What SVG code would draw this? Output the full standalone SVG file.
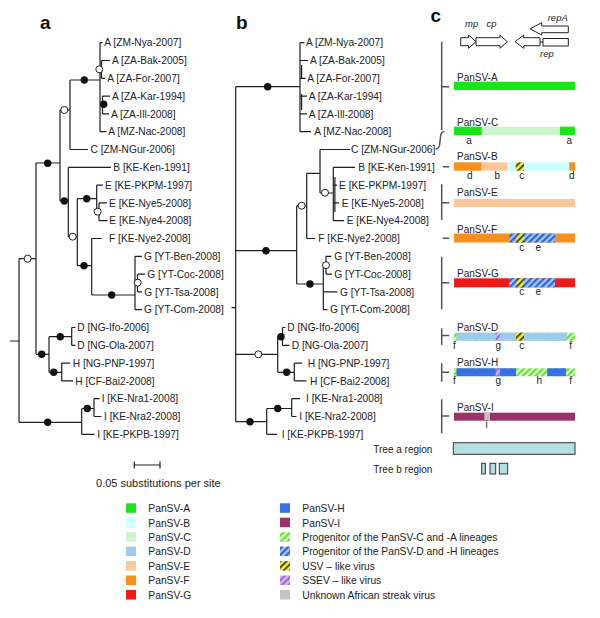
<svg xmlns="http://www.w3.org/2000/svg" width="600" height="618" viewBox="0 0 600 618">
<style>
.br{fill:none;stroke:#1e1e1e;stroke-width:1.2}
.bk{fill:#111}
.op{fill:#fff;stroke:#1e1e1e;stroke-width:1}
.lf{font-family:"Liberation Sans",Arial,sans-serif;font-size:10.2px;fill:#222}
.pl{font-family:"Liberation Sans",Arial,sans-serif;font-size:19px;font-weight:bold;fill:#111}
.bl{font-family:"Liberation Sans",Arial,sans-serif;font-size:10px;fill:#222}
.lt{font-family:"Liberation Sans",Arial,sans-serif;font-size:10px;fill:#222;text-anchor:middle}
.gi{font-family:"Liberation Sans",Arial,sans-serif;font-size:9.5px;font-style:italic;fill:#222}
.lg{font-family:"Liberation Sans",Arial,sans-serif;font-size:10.3px;fill:#222}
.gn{fill:#fff;stroke:#222;stroke-width:1}
.bk2{fill:none;stroke:#555;stroke-width:1.5}
.rg{fill:#b3dfe3;stroke:#333;stroke-width:1}
</style>
<defs>
<pattern id="pCA" patternUnits="userSpaceOnUse" width="4.5" height="4.5" patternTransform="rotate(45)"><rect width="4.5" height="4.5" fill="#d6ffb8"/><rect width="2.2" height="4.5" fill="#6ddc4a"/></pattern>
<pattern id="pDH" patternUnits="userSpaceOnUse" width="4.5" height="4.5" patternTransform="rotate(45)"><rect width="4.5" height="4.5" fill="#9fcaf0"/><rect width="2.2" height="4.5" fill="#2f62d8"/></pattern>
<pattern id="pUSV" patternUnits="userSpaceOnUse" width="4.5" height="4.5" patternTransform="rotate(45)"><rect width="4.5" height="4.5" fill="#f4f030"/><rect width="2" height="4.5" fill="#4a4a2a"/></pattern>
<pattern id="pSSEV" patternUnits="userSpaceOnUse" width="4.5" height="4.5" patternTransform="rotate(45)"><rect width="4.5" height="4.5" fill="#d9b3f2"/><rect width="2.2" height="4.5" fill="#9b6fd0"/></pattern>
</defs>

<rect width="600" height="618" fill="#fff"/>

<!-- panel labels -->
<text class="pl" x="40" y="28.5">a</text>
<text class="pl" x="236" y="28.5">b</text>
<text class="pl" x="430.5" y="21.7">c</text>

<!-- Tree a connectors -->
<g id="tree-a-connectors">
<path class="br" d="M10,341H19 M19,258.7V422.3 M19,258.7H36 M36,163V354.3 M36,163H60 M60,110V201 M60,110H70 M70,80V149.5 M70,80H100 M70,149.5H88
M100,42.7V131.7 M100,42.7H102.5 M100,69.3H101.5 M101.5,60.5V78.3 M101.5,60.5H110 M101.5,78.3H105 M100,104.3H102.5 M102.5,96.1V113.9 M102.5,96.1H110 M102.5,113.9H109 M100,131.7H106.5
M60,201H68.3 M68.3,167.3V236.7 M68.3,167.3H111 M68.3,236.7H77.3 M77.3,198.7V265.7 M77.3,198.7H96.7
M96.7,185.1V211.8 M96.7,185.1H103 M96.7,211.8H99 M99,202.9V220.7 M99,202.9H107 M99,220.7H107.5
M77.3,265.7H91.7 M91.7,238.5V295 M91.7,238.5H101.7 M91.7,295H135
M135,256.3V309.7 M135,256.3H142 M135,282.7H137.5 M137.5,274.1V291.9 M137.5,274.1H145 M137.5,291.9H142 M135,309.7H142
M36,354.3H49 M49,336.7V372.3 M49,336.7H71.7 M71.7,327.5V345.3 M71.7,327.5H75.5 M71.7,345.3H75.5 M49,372.3H61.7 M61.7,363.1V380.9 M61.7,363.1H70 M61.7,380.9H73
M19,422.3H81.7 M81.7,408.5V434.3 M81.7,408.5H94 M94,398.7V416.5 M94,398.7H99.5 M94,416.5H101.5 M81.7,434.3H94.5"/>
<circle class="op" cx="27.7" cy="258.7" r="3.5"/>
<circle class="bk" cx="47.7" cy="163.3" r="3.7"/>
<circle class="op" cx="64.3" cy="110" r="3.5"/>
<circle class="bk" cx="84.3" cy="80" r="3.7"/>
<circle class="op" cx="99.3" cy="69.3" r="3.5"/>
<circle class="bk" cx="103.7" cy="104.3" r="3.7"/>
<circle class="bk" cx="64.3" cy="201" r="3.7"/>
<circle class="bk" cx="86.7" cy="198.7" r="3.7"/>
<circle class="op" cx="97.7" cy="211.7" r="3.5"/>
<circle class="op" cx="72.7" cy="236.7" r="3.5"/>
<circle class="bk" cx="84" cy="265.7" r="3.7"/>
<circle class="bk" cx="111.7" cy="295" r="3.7"/>
<circle class="op" cx="137.7" cy="282.7" r="3.5"/>
<circle class="bk" cx="41.7" cy="354.3" r="3.7"/>
<circle class="bk" cx="60.3" cy="336.7" r="3.7"/>
<circle class="bk" cx="53.7" cy="372.3" r="3.7"/>
<circle class="bk" cx="47.7" cy="422.3" r="3.7"/>
<circle class="bk" cx="87.3" cy="408.5" r="3.7"/>
</g>

<!-- Tree a leaves -->
<g id="tree-a-leaves">
<g id="a-ZM-Nya-2007"><text class="lf" x="104.3" y="46.4">A [ZM-Nya-2007]</text></g>
<g id="a-ZA-Bak-2005"><text class="lf" x="112" y="64.2">A [ZA-Bak-2005]</text></g>
<g id="a-ZA-For-2007"><text class="lf" x="107.3" y="82">A [ZA-For-2007]</text></g>
<g id="a-ZA-Kar-1994"><text class="lf" x="112" y="99.8">A [ZA-Kar-1994]</text></g>
<g id="a-ZA-Ill-2008"><text class="lf" x="111" y="117.6">A [ZA-Ill-2008]</text></g>
<g id="a-MZ-Nac-2008"><text class="lf" x="108.3" y="135.4">A [MZ-Nac-2008]</text></g>
<g id="a-ZM-NGur-2006"><text class="lf" x="90.5" y="153.2">C [ZM-NGur-2006]</text></g>
<g id="a-KE-Ken-1991"><text class="lf" x="113.3" y="171">B [KE-Ken-1991]</text></g>
<g id="a-KE-PKPM-1997"><text class="lf" x="105" y="188.8">E [KE-PKPM-1997]</text></g>
<g id="a-KE-Nye5-2008"><text class="lf" x="109" y="206.6">E [KE-Nye5-2008]</text></g>
<g id="a-KE-Nye4-2008"><text class="lf" x="109.3" y="224.4">E [KE-Nye4-2008]</text></g>
<g id="a-KE-Nye2-2008"><text class="lf" x="109" y="242.2">F [KE-Nye2-2008]</text></g>
<g id="a-YT-Ben-2008"><text class="lf" x="144" y="260">G [YT-Ben-2008]</text></g>
<g id="a-YT-Coc-2008"><text class="lf" x="147.3" y="277.8">G [YT-Coc-2008]</text></g>
<g id="a-YT-Tsa-2008"><text class="lf" x="144.3" y="295.6">G [YT-Tsa-2008]</text></g>
<g id="a-YT-Com-2008"><text class="lf" x="144" y="313.4">G [YT-Com-2008]</text></g>
<g id="a-NG-Ifo-2006"><text class="lf" x="77.3" y="331.2">D [NG-Ifo-2006]</text></g>
<g id="a-NG-Ola-2007"><text class="lf" x="77.3" y="349">D [NG-Ola-2007]</text></g>
<g id="a-NG-PNP-1997"><text class="lf" x="72.7" y="366.8">H [NG-PNP-1997]</text></g>
<g id="a-CF-Bai2-2008"><text class="lf" x="75.3" y="384.6">H [CF-Bai2-2008]</text></g>
<g id="a-KE-Nra1-2008"><text class="lf" x="101.7" y="402.4">I [KE-Nra1-2008]</text></g>
<g id="a-KE-Nra2-2008"><text class="lf" x="104" y="420.2">I [KE-Nra2-2008]</text></g>
<g id="a-KE-PKPB-1997"><text class="lf" x="97.3" y="438">I [KE-PKPB-1997]</text></g>
</g>

<!-- scale bar -->
<g id="scale-bar">
<path class="br" d="M134.3,465H160 M134.3,461.5V468.5 M160,461.5V468.5"/>
<text class="lg" style="font-size:11px" x="96" y="487">0.05 substitutions per site</text>
</g>

<!-- Tree b connectors -->
<g id="tree-b-connectors">
<path class="br" d="M231.5,307.7H235.7 M235.7,86.7V421.7 M235.7,86.7H300
M300,42.7V131.7 M300,42.7H304.5 M300,60.5H308 M300,78.3H305.5 M300,96.1H307 M300,113.9H307 M300,131.7H311 M301.6,65V79 M301.6,94V110
M235.7,250.7H296.7 M296.7,205.7V284 M296.7,205.7H306.7 M306.7,173.3V238.5 M306.7,173.3H320 M320,149.5V193 M320,149.5H350 M320,193H333.3
M333.3,167.3V220.7 M333.3,167.3H355 M333.3,185.1H337 M333.3,202.9H339 M333.3,220.7H344 M334.9,177V212
M306.7,238.5H315 M296.7,284H323.3
M323.3,265.5V309.7 M323.3,265.5H326 M326,256.3V274.1 M326,256.3H331.5 M326,274.1H332 M323.3,291.9H337.5 M323.3,309.7H327.5
M235.7,354.3H277.7 M277.7,336.7V372.3 M277.7,336.7H282.5 M282.5,327.5V345.3 M282.5,327.5H285.5 M282.5,345.3H289.5 M277.7,372.3H294.3 M294.3,363.1V380.9 M294.3,363.1H302 M294.3,380.9H306.5
M235.7,421.7H266.7 M266.7,408.5V434.3 M266.7,408.5H291.7 M291.7,398.7V416.5 M291.7,398.7H300 M291.7,416.5H296.5 M266.7,434.3H277"/>
<circle class="bk" cx="267.7" cy="86.7" r="3.7"/>
<circle class="bk" cx="266" cy="250.7" r="3.7"/>
<circle class="op" cx="301.7" cy="205.7" r="3.5"/>
<circle class="op" cx="325" cy="192.7" r="3.5"/>
<circle class="bk" cx="310" cy="284" r="3.7"/>
<circle class="op" cx="326" cy="265.2" r="3.5"/>
<circle class="op" cx="258.3" cy="354.3" r="3.5"/>
<circle class="bk" cx="281" cy="336.7" r="3.7"/>
<circle class="bk" cx="286.7" cy="372.3" r="3.7"/>
<circle class="bk" cx="250" cy="421.7" r="3.7"/>
<circle class="bk" cx="277.7" cy="408.5" r="3.7"/>
</g>

<!-- Tree b leaves -->
<g id="tree-b-leaves">
<g id="b-ZM-Nya-2007"><text class="lf" x="306" y="46.4">A [ZM-Nya-2007]</text></g>
<g id="b-ZA-Bak-2005"><text class="lf" x="310" y="64.2">A [ZA-Bak-2005]</text></g>
<g id="b-ZA-For-2007"><text class="lf" x="307.3" y="82">A [ZA-For-2007]</text></g>
<g id="b-ZA-Kar-1994"><text class="lf" x="308.8" y="99.8">A [ZA-Kar-1994]</text></g>
<g id="b-ZA-Ill-2008"><text class="lf" x="308.8" y="117.6">A [ZA-Ill-2008]</text></g>
<g id="b-MZ-Nac-2008"><text class="lf" x="314.3" y="135.4">A [MZ-Nac-2008]</text></g>
<g id="b-ZM-NGur-2006"><text class="lf" x="351" y="153.2">C [ZM-NGur-2006]</text></g>
<g id="b-KE-Ken-1991"><text class="lf" x="358.3" y="171">B [KE-Ken-1991]</text></g>
<g id="b-KE-PKPM-1997"><text class="lf" x="339" y="188.8">E [KE-PKPM-1997]</text></g>
<g id="b-KE-Nye5-2008"><text class="lf" x="341.7" y="206.6">E [KE-Nye5-2008]</text></g>
<g id="b-KE-Nye4-2008"><text class="lf" x="346.7" y="224.4">E [KE-Nye4-2008]</text></g>
<g id="b-KE-Nye2-2008"><text class="lf" x="318.3" y="242.2">F [KE-Nye2-2008]</text></g>
<g id="b-YT-Ben-2008"><text class="lf" x="334.3" y="260">G [YT-Ben-2008]</text></g>
<g id="b-YT-Coc-2008"><text class="lf" x="334.3" y="277.8">G [YT-Coc-2008]</text></g>
<g id="b-YT-Tsa-2008"><text class="lf" x="340" y="295.6">G [YT-Tsa-2008]</text></g>
<g id="b-YT-Com-2008"><text class="lf" x="330" y="313.4">G [YT-Com-2008]</text></g>
<g id="b-NG-Ifo-2006"><text class="lf" x="287.3" y="331.2">D [NG-Ifo-2006]</text></g>
<g id="b-NG-Ola-2007"><text class="lf" x="291.7" y="349">D [NG-Ola-2007]</text></g>
<g id="b-NG-PNP-1997"><text class="lf" x="307.7" y="366.8">H [NG-PNP-1997]</text></g>
<g id="b-CF-Bai2-2008"><text class="lf" x="310" y="384.6">H [CF-Bai2-2008]</text></g>
<g id="b-KE-Nra1-2008"><text class="lf" x="306" y="402.4">I [KE-Nra1-2008]</text></g>
<g id="b-KE-Nra2-2008"><text class="lf" x="299.3" y="420.2">I [KE-Nra2-2008]</text></g>
<g id="b-KE-PKPB-1997"><text class="lf" x="281.7" y="438">I [KE-PKPB-1997]</text></g>
</g>

<!-- Panel c genome map -->
<g id="genome-map">
<path class="gn" d="M460.7,37.7H468.5V35L476,41.7L468.5,48.3V45.7H460.7Z"/>
<path class="gn" d="M476,37.7H500V35L507.3,41.7L500,48.3V45.7H476Z"/>
<path class="gn" d="M515,41.7L523.8,35V37.7H540V45.7H523.8V48.3Z"/>
<path class="br" style="stroke-width:1" d="M540,42H543"/>
<rect class="gn" x="543" y="38.5" width="25.3" height="7.5"/>
<path class="gn" d="M530,28.8L541.7,22.7V26H568.3V32.7H541.7V35Z"/>
<text class="gi" x="465" y="27">mp</text>
<text class="gi" x="486.5" y="27">cp</text>
<text class="gi" x="547.7" y="20.5">repA</text>
<text class="gi" x="540" y="56.5">rep</text>
</g>

<!-- Panel c brackets -->
<g id="panel-c-connectors">
<path class="bk2" d="M441.7,41.7V130 M441.7,86.7H449.3
M444.5,131.5C441,131.5 440.5,134 440.4,138L439.7,144C439.5,147.5 438.5,149 435.5,149
M442.7,166.7H449.3
M441.7,184.3V220 M441.7,202.7H449.3
M442.7,238.3H449.3
M441.7,256.7V309.3 M441.7,282.7H449.3
M441.7,328.3V345 M441.7,335.5H449.3
M441.7,363.3V381.7 M441.7,372.3H449.3
M441.7,399.3V433.3 M441.7,416H449.3"/>
</g>

<!-- Panel c bars -->
<g id="bar-A">
<text class="bl" x="457" y="80.5">PanSV-A</text>
<rect x="454" y="81.7" width="121" height="8.3" fill="#19e619"/>
</g>
<g id="bar-C">
<text class="bl" x="457" y="125.5">PanSV-C</text>
<rect x="454" y="126.7" width="121" height="8.3" fill="#cbf6cb"/>
<rect x="454" y="126.7" width="27.7" height="8.3" fill="#19e619"/>
<rect x="560" y="126.7" width="15" height="8.3" fill="#19e619"/>
<text class="lt" x="469" y="143.5">a</text>
<text class="lt" x="569.3" y="143.5">a</text>
</g>
<g id="bar-B">
<text class="bl" x="457" y="159.5">PanSV-B</text>
<rect x="454" y="162.3" width="27.7" height="8.4" fill="#f7901e"/>
<rect x="481.7" y="162.3" width="26" height="8.4" fill="#fcc89b"/>
<rect x="508.2" y="162.3" width="61.1" height="8.4" fill="#ccffff"/>
<rect x="515.7" y="162.3" width="8.3" height="8.4" fill="url(#pUSV)"/>
<rect x="569.3" y="162.3" width="5.7" height="8.4" fill="#f7901e"/>
<text class="lt" x="469.7" y="178.5">d</text>
<text class="lt" x="497.3" y="178.5">b</text>
<text class="lt" x="521.7" y="178.5">c</text>
<text class="lt" x="571.7" y="178.5">d</text>
</g>
<g id="bar-E">
<text class="bl" x="457" y="195.5">PanSV-E</text>
<rect x="454" y="199" width="121" height="8" fill="#fcc89b"/>
</g>
<g id="bar-F">
<text class="bl" x="457" y="232.5">PanSV-F</text>
<rect x="454" y="233.5" width="121" height="9" fill="#f7901e"/>
<rect x="509.3" y="233.5" width="45.7" height="9" fill="url(#pDH)"/>
<rect x="516.5" y="233.5" width="7.5" height="9" fill="url(#pUSV)"/>
<text class="lt" x="521.7" y="250.8">c</text>
<text class="lt" x="538.3" y="250.8">e</text>
</g>
<g id="bar-G">
<text class="bl" x="457" y="277">PanSV-G</text>
<rect x="454" y="278.3" width="121" height="9" fill="#ef1a1a"/>
<rect x="509.3" y="278.3" width="45.7" height="9" fill="url(#pDH)"/>
<rect x="516.5" y="278.3" width="7.5" height="9" fill="url(#pUSV)"/>
<text class="lt" x="521.7" y="295">c</text>
<text class="lt" x="538.3" y="295">e</text>
</g>
<g id="bar-D">
<text class="bl" x="457" y="330.5">PanSV-D</text>
<rect x="454" y="332.7" width="121" height="8" fill="url(#pCA)"/>
<rect x="456.5" y="332.7" width="110.2" height="8" fill="#9fcaf0"/>
<rect x="495.7" y="332.7" width="4.3" height="8" fill="url(#pSSEV)"/>
<rect x="516" y="332.7" width="8" height="8" fill="url(#pUSV)"/>
<text class="lt" x="454.3" y="349">f</text>
<text class="lt" x="498.3" y="349">g</text>
<text class="lt" x="521.7" y="349">c</text>
<text class="lt" x="570.7" y="349">f</text>
</g>
<g id="bar-H">
<text class="bl" x="457" y="365.5">PanSV-H</text>
<rect x="454" y="368.3" width="121" height="7.9" fill="url(#pCA)"/>
<rect x="456.5" y="368.3" width="59.5" height="7.9" fill="#3a6ee8"/>
<rect x="547.3" y="368.3" width="18.7" height="7.9" fill="#3a6ee8"/>
<rect x="495.7" y="368.3" width="4.3" height="7.9" fill="url(#pSSEV)"/>
<text class="lt" x="454.3" y="384">f</text>
<text class="lt" x="498.3" y="384">g</text>
<text class="lt" x="539.3" y="384">h</text>
<text class="lt" x="570.7" y="384">f</text>
</g>
<g id="bar-I">
<text class="bl" x="457" y="410.5">PanSV-I</text>
<rect x="454" y="412.7" width="121" height="8" fill="#993366"/>
<rect x="484.3" y="412.7" width="5.7" height="8" fill="#c4c0c2"/>
<text class="lt" x="486.7" y="428">i</text>
</g>

<!-- tree regions -->
<g id="tree-a-region">
<text class="lg" style="font-size:10px" x="373.3" y="452.5">Tree a region</text>
<rect class="rg" x="453.3" y="442.7" width="121.7" height="11.6"/>
</g>
<g id="tree-b-region">
<text class="lg" style="font-size:10px" x="373.3" y="472.5">Tree b region</text>
<rect class="rg" x="481.7" y="463.3" width="3.6" height="10.7"/>
<rect class="rg" x="490" y="463.3" width="5.7" height="10.7"/>
<rect class="rg" x="499.3" y="463.3" width="8.4" height="10.7"/>
</g>

<!-- Legend -->
<g id="legend">
<rect x="126" y="503.3" width="10" height="9.5" fill="#19e619"/><text class="lg" x="148.3" y="512">PanSV-A</text>
<rect x="126" y="517.7" width="10" height="9.5" fill="#ccffff"/><text class="lg" x="148.3" y="526.5">PanSV-B</text>
<rect x="126" y="532.2" width="10" height="9.5" fill="#cbf6cb"/><text class="lg" x="148.3" y="540.9">PanSV-C</text>
<rect x="126" y="546.6" width="10" height="9.5" fill="#9fcaf0"/><text class="lg" x="148.3" y="555.4">PanSV-D</text>
<rect x="126" y="561.1" width="10" height="9.5" fill="#fcc89b"/><text class="lg" x="148.3" y="569.8">PanSV-E</text>
<rect x="126" y="575.5" width="10" height="9.5" fill="#f7901e"/><text class="lg" x="148.3" y="584.3">PanSV-F</text>
<rect x="126" y="590" width="10" height="9.5" fill="#ef1a1a"/><text class="lg" x="148.3" y="598.7">PanSV-G</text>
<rect x="280" y="503.3" width="10" height="9.5" fill="#3a6ee8"/><text class="lg" x="302.3" y="512">PanSV-H</text>
<rect x="280" y="517.7" width="10" height="9.5" fill="#993366"/><text class="lg" x="302.3" y="526.5">PanSV-I</text>
<rect x="280" y="532.2" width="10" height="9.5" fill="url(#pCA)"/><text class="lg" x="302.3" y="540.9">Progenitor of the PanSV-C and -A lineages</text>
<rect x="280" y="546.6" width="10" height="9.5" fill="url(#pDH)"/><text class="lg" x="302.3" y="555.4">Progenitor of the PanSV-D and -H lineages</text>
<rect x="280" y="561.1" width="10" height="9.5" fill="url(#pUSV)"/><text class="lg" x="302.3" y="569.8">USV – like virus</text>
<rect x="280" y="575.5" width="10" height="9.5" fill="url(#pSSEV)"/><text class="lg" x="302.3" y="584.3">SSEV – like virus</text>
<rect x="280" y="590" width="10" height="9.5" fill="#c4c4c4"/><text class="lg" x="302.3" y="598.7">Unknown African streak virus</text>
</g>
</svg>
